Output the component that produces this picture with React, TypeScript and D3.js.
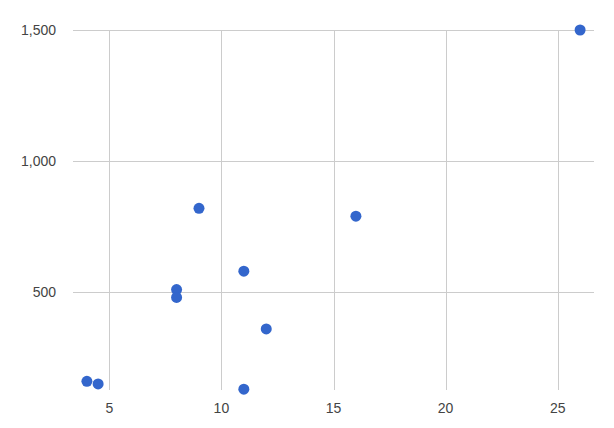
import { useEffect, useRef } from "react";
import * as d3 from "d3";

// scatter values
const xValues = [4, 4.5, 8, 8, 9, 11, 11, 12, 16, 26];
const yValues = [160, 150, 510, 480, 820, 580, 130, 360, 790, 1500];
const xTicks = [5, 10, 15, 20, 25];
const yTicks = [500, 1000, 1500];

const width = 614;
const height = 428;
const plot = { left: 73, right: 594, top: 30, bottom: 390 };

export default function App() {
  const svgRef = useRef<SVGSVGElement | null>(null);

  useEffect(() => {
    if (!svgRef.current) return;
    const svg = d3.select(svgRef.current);
    svg.selectAll("*").remove();

    const x = d3.scaleLinear().domain([3.38, 26.62]).range([plot.left, plot.right]);
    const y = d3.scaleLinear().domain([127, 1500]).range([plot.bottom, plot.top]);

    const grid = svg.append("g").attr("stroke", "#cccccc").attr("stroke-width", 1);

    // vertical grid
    grid.selectAll(".vx")
      .data(xTicks)
      .join("line")
      .attr("x1", d => Math.round(x(d)) + 0.5)
      .attr("x2", d => Math.round(x(d)) + 0.5)
      .attr("y1", plot.top)
      .attr("y2", plot.bottom);

    // horizontal grid
    grid.selectAll(".hy")
      .data(yTicks)
      .join("line")
      .attr("x1", plot.left)
      .attr("x2", plot.right)
      .attr("y1", d => Math.round(y(d)) + 0.5)
      .attr("y2", d => Math.round(y(d)) + 0.5);

    const fmt = d3.format(",");

    svg.append("g")
      .selectAll("text")
      .data(yTicks)
      .join("text")
      .attr("x", 56)
      .attr("y", d => y(d) + 5)
      .attr("text-anchor", "end")
      .attr("font-family", "Arial, 'Liberation Sans', sans-serif")
      .attr("font-size", 14)
      .attr("fill", "#444444")
      .text(d => fmt(d));

    svg.append("g")
      .selectAll("text")
      .data(xTicks)
      .join("text")
      .attr("x", d => x(d))
      .attr("y", 413)
      .attr("text-anchor", "middle")
      .attr("font-family", "Arial, 'Liberation Sans', sans-serif")
      .attr("font-size", 14)
      .attr("fill", "#444444")
      .text(d => fmt(d));

    // points
    svg.append("g")
      .selectAll("circle")
      .data(xValues.map((v, i) => ({ x: v, y: yValues[i] })))
      .join("circle")
      .attr("cx", d => x(d.x))
      .attr("cy", d => y(d.y))
      .attr("r", 5.5)
      .attr("fill", "#3366cc");
  }, []);

  return (
    <svg
      ref={svgRef}
      width={width}
      height={height}
      style={{ position: "absolute", left: 0, top: 0, background: "#fff" }}
    />
  );
}
